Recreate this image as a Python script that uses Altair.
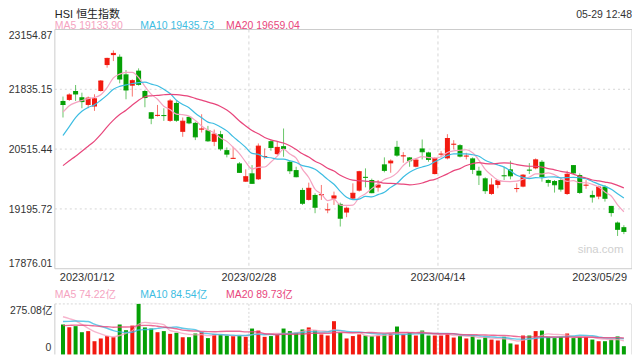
import altair as alt
import pandas as pd
import numpy as np

# ---------------- data ----------------
dates = [
    "2023-01-12", "2023-01-13", "2023-01-16", "2023-01-17", "2023-01-18", "2023-01-19", "2023-01-20",
    "2023-01-26", "2023-01-27", "2023-01-30", "2023-01-31",
    "2023-02-01", "2023-02-02", "2023-02-03", "2023-02-06", "2023-02-07", "2023-02-08", "2023-02-09",
    "2023-02-10", "2023-02-13", "2023-02-14", "2023-02-15", "2023-02-16", "2023-02-17", "2023-02-20",
    "2023-02-21", "2023-02-22", "2023-02-23", "2023-02-24", "2023-02-27", "2023-02-28",
    "2023-03-01", "2023-03-02", "2023-03-03", "2023-03-06", "2023-03-07", "2023-03-08", "2023-03-09",
    "2023-03-10", "2023-03-13", "2023-03-14", "2023-03-15", "2023-03-16", "2023-03-17", "2023-03-20",
    "2023-03-21", "2023-03-22", "2023-03-23", "2023-03-24", "2023-03-27", "2023-03-28", "2023-03-29",
    "2023-03-30", "2023-03-31",
    "2023-04-03", "2023-04-04", "2023-04-06", "2023-04-11", "2023-04-12", "2023-04-13", "2023-04-14",
    "2023-04-17", "2023-04-18", "2023-04-19", "2023-04-20", "2023-04-21", "2023-04-24", "2023-04-25",
    "2023-04-26", "2023-04-27", "2023-04-28",
    "2023-05-02", "2023-05-03", "2023-05-04", "2023-05-05", "2023-05-08", "2023-05-09", "2023-05-10",
    "2023-05-11", "2023-05-12", "2023-05-15", "2023-05-16", "2023-05-17", "2023-05-18", "2023-05-19",
    "2023-05-22", "2023-05-23", "2023-05-24", "2023-05-25", "2023-05-29",
]

opens = [
    21578, 21600, 21798, 21660, 21490, 21455, 21798, 22370, 22590, 22554,
    22165, 21915, 22247, 21798, 21329, 21250, 21262, 21138, 21534, 20896,
    21226, 21094, 20950, 20933, 20676, 20845, 20493, 20305, 20200, 19796,
    19981, 19849, 20345, 20691, 20405, 20581, 20236, 20053, 19614, 19394,
    19504, 19500, 19170, 19423, 19306, 19115, 19423, 19598, 19900, 19834,
    19665, 20179, 20201, 20566, 20360, 20333, 20126, 20530, 20442, 19965,
    20400, 20311, 20618, 20603, 20358, 20311, 20038, 19871, 19526, 19724,
    19932, 20069, 19640, 19687, 20056, 20091, 20236, 19834, 19811, 19834,
    19525, 20163, 19943, 19715, 19504, 19467, 19687, 19262, 18895, 18793,
]
highs = [
    21675, 21747, 21930, 21760, 21675, 21725, 22040, 22532, 22693, 22605,
    22260, 22055, 22297, 21820, 21329, 21490, 21417, 21622, 21572, 21213,
    21240, 21116, 21285, 21028, 20948, 20918, 20553, 20566, 20230, 20069,
    20163, 20640, 20530, 20713, 20680, 20970, 20273, 20126, 19660, 19775,
    19541, 19724, 19321, 19577, 19335, 19247, 19760, 20038, 20090, 19864,
    19834, 20333, 20289, 20698, 20449, 20340, 20310, 20728, 20457, 20333,
    20471, 20845, 20713, 20625, 20434, 20333, 20126, 19893, 19871, 19834,
    20126, 20258, 19760, 19963, 20207, 20310, 20273, 19848, 19834, 19870,
    20038, 20163, 19980, 19830, 19599, 19710, 19723, 19262, 18917, 18837,
]
lows = [
    21213, 21578, 21578, 21417, 21417, 21358, 21785, 22312, 22458, 21967,
    21615, 21675, 21916, 21439, 21065, 21234, 21138, 21116, 21116, 20787,
    21065, 20714, 20882, 20676, 20581, 20478, 20333, 20300, 19990, 19790,
    19746, 19834, 20295, 20478, 20385, 20346, 19965, 19892, 19284, 19379,
    19101, 19394, 19101, 19284, 18807, 19013, 19394, 19577, 19672, 19541,
    19577, 20003, 19994, 20346, 20214, 20126, 20113, 20288, 20237, 19958,
    20333, 20288, 20508, 20332, 20288, 19965, 19723, 19526, 19504, 19651,
    19833, 19848, 19562, 19672, 19965, 20069, 19797, 19687, 19556, 19577,
    19504, 19965, 19526, 19640, 19335, 19409, 19357, 19026, 18599, 18639,
]
closes = [
    21500, 21710, 21732, 21564, 21640, 21625, 22018, 22517, 22627, 22062,
    21820, 22025, 21945, 21653, 21197, 21260, 21255, 21578, 21153, 21131,
    21094, 20786, 20960, 20698, 20845, 20522, 20405, 20312, 20003, 19906,
    19761, 20581, 20352, 20553, 20553, 20531, 20038, 19906, 19321, 19651,
    19233, 19510, 19176, 19482, 18991, 19211, 19541, 20016, 19893, 19554,
    19723, 20047, 20251, 20383, 20367, 20259, 20273, 20457, 20288, 20310,
    20406, 20750, 20624, 20361, 20363, 20069, 19943, 19598, 19724, 19818,
    19926, 19926, 19645, 19941, 20051, 20278, 19913, 19781, 19729, 19633,
    19960, 19990, 19560, 19720, 19458, 19678, 19431, 19115, 18746, 18700,
]
# turnover, 亿
volumes = [
    163, 148, 154, 121, 127, 72, 87, 100, 94, 163,
    132, 157, 275.08, 147, 141, 121, 127, 112, 118, 94,
    94, 114, 121, 89, 109, 107, 103, 100, 100, 96,
    141, 130, 96, 100, 107, 141, 127, 118, 136, 147,
    132, 109, 103, 181, 118, 87, 100, 109, 103, 100,
    103, 109, 112, 152, 109, 118, 103, 130, 103, 103,
    103, 114, 92, 100, 87, 103, 81, 94, 81, 76,
    96, 60, 54, 103, 103, 127, 130, 96, 89, 96,
    114, 89, 96, 96, 81, 72, 72, 81, 98, 45,
]
# sessions before the first visible day (lead-in for the moving averages)
prior_closes = [19596, 19674, 19368, 19450, 19353, 19094, 19160, 19679, 19593, 19898,
                19741, 19781, 20145, 20793, 21052, 20991, 21388, 21331, 21436]
prior_volumes = [120, 130, 135, 140, 125, 150, 130, 145, 140, 135,
                 140, 135, 130, 145, 215, 200, 210, 220, 232]

price_ticks = [23154.87, 21835.15, 20515.44, 19195.72, 17876.01]
vol_tick_max = 275.08
date_ticks = ["2023/01/12", "2023/02/28", "2023/04/14", "2023/05/29"]
ma_periods = [5, 10, 20]
ma_price_last = ["19133.90", "19435.73", "19659.04"]
ma_vol_last = ["74.22亿", "84.54亿", "89.73亿"]
title_text = "HSI 恒生指数"
time_text = "05-29 12:48"
watermark_text = "sina.com"

# ---------------- styling / layout ----------------
FONT = "Liberation Sans, Arial, Noto Sans CJK SC, sans-serif"
RED = "#f2190f"
GREEN = "#05a005"
MA_COLORS = ["#f5a3c1", "#3dbde2", "#e8467c"]
GRID = "#d6d6d6"
BORDER = "#cccccc"

W = 579
H_MAIN = 240
H_ALL = 326
VOL_H = 50.7
VOL_TOP = H_ALL - VOL_H
LEG_X = [0, 85.7, 171.7]
LABEL_X = -2.5

n = len(closes)
idx = list(range(n))

df = pd.DataFrame({"idx": idx, "date": dates, "open": opens, "high": highs,
                   "low": lows, "close": closes, "vol": volumes})
df["dir"] = np.where(df["close"] >= df["open"], "up", "down")


def moving_avg(prior, values, k):
    s = pd.Series(list(prior) + list(values), dtype=float)
    return s.rolling(k).mean().iloc[-len(values):].to_numpy()


price_ma = {k: pd.DataFrame({"idx": idx, "v": moving_avg(prior_closes, closes, k)}) for k in ma_periods}
vol_ma = {k: pd.DataFrame({"idx": idx, "v": moving_avg(prior_volumes, volumes, k)}) for k in ma_periods}

p_hi, p_lo = price_ticks[0], price_ticks[-1]
price_scale = alt.Scale(domain=[p_hi - (p_hi - p_lo) * H_ALL / H_MAIN, p_hi], nice=False, zero=False)
vol_scale = alt.Scale(domain=[0, vol_tick_max * H_ALL / VOL_H], nice=False, zero=True)
x_scale = alt.Scale(domain=[-0.5, n - 0.5], nice=False, zero=False)
color_scale = alt.Scale(domain=["up", "down"], range=[RED, GREEN])

X = alt.X("idx:Q", scale=x_scale, axis=None)
COLOR = alt.Color("dir:N", scale=color_scale, legend=None)


def one_row(**kw):
    return pd.DataFrame({k: [v] for k, v in kw.items()})


def text_at(text, x, y, color="#333333", size=11, align="left"):
    return alt.Chart(one_row(t=text)).mark_text(
        align=align, baseline="alphabetic", font=FONT, fontSize=size, color=color
    ).encode(x=alt.value(x), y=alt.value(y), text="t:N")


# ---------------- price panel ----------------
main_border = alt.Chart(one_row(a=0)).mark_rect(
    fillOpacity=0, stroke=BORDER, strokeWidth=1
).encode(x=alt.value(0), x2=alt.value(W), y=alt.value(0), y2=alt.value(H_MAIN))

hgrid = alt.Chart(pd.DataFrame({"v": price_ticks[1:-1]})).mark_rule(
    color=GRID, strokeDash=[2, 3], strokeWidth=1
).encode(y=alt.Y("v:Q", scale=price_scale, axis=None), x=alt.value(0), x2=alt.value(W))

vpos = pd.DataFrame({"pos": [n / 3 - 0.5, 2 * n / 3 - 0.5]})
vgrid_main = alt.Chart(vpos).mark_rule(color=GRID, strokeDash=[3, 3], strokeWidth=1).encode(
    x=alt.X("pos:Q", scale=x_scale, axis=None), y=alt.value(0), y2=alt.value(H_MAIN))
vgrid_vol = alt.Chart(vpos).mark_rule(color=GRID, strokeDash=[2, 2], strokeWidth=1).encode(
    x=alt.X("pos:Q", scale=x_scale, axis=None), y=alt.value(VOL_TOP), y2=alt.value(H_ALL))

base = alt.Chart(df)
wicks = base.mark_rule(strokeWidth=1, opacity=0.6).encode(
    x=X, y=alt.Y("low:Q", scale=price_scale, axis=None), y2="high:Q", color=COLOR)
bodies = base.mark_bar(size=5, opacity=1).encode(
    x=X, y=alt.Y("open:Q", scale=price_scale, axis=None), y2="close:Q", color=COLOR)
doji = base.mark_tick(orient="horizontal", size=5, thickness=1, opacity=1).encode(
    x=X, y=alt.Y("close:Q", scale=price_scale, axis=None), color=COLOR)

ma_lines = [
    alt.Chart(price_ma[k]).mark_line(strokeWidth=1.2, color=c, interpolate="monotone").encode(
        x=X, y=alt.Y("v:Q", scale=price_scale, axis=None))
    for k, c in zip(ma_periods, MA_COLORS)
]

pt = pd.DataFrame({"v": price_ticks, "label": [f"{v:.2f}" for v in price_ticks], "k": range(len(price_ticks))})
last_k = len(price_ticks) - 1


def price_label(filter_expr, dy):
    return alt.Chart(pt).transform_filter(filter_expr).mark_text(
        align="right", baseline="alphabetic", font=FONT, fontSize=10.5, color="#333333", dy=dy
    ).encode(y=alt.Y("v:Q", scale=price_scale, axis=None), x=alt.value(LABEL_X), text="label:N")


price_labels = [
    price_label("datum.k == 0", 9.3),
    price_label(f"datum.k > 0 && datum.k < {last_k}", 4.0),
    price_label(f"datum.k == {last_k}", -1.7),
]

dt = pd.DataFrame({"pos": [-0.5, n / 3 - 0.5, 2 * n / 3 - 0.5, n - 0.5], "label": date_ticks,
                   "k": range(len(date_ticks))})


def date_label(filter_expr, align):
    return alt.Chart(dt).transform_filter(filter_expr).mark_text(
        align=align, baseline="alphabetic", font=FONT, fontSize=11, color="#333333"
    ).encode(x=alt.X("pos:Q", scale=x_scale, axis=None), y=alt.value(252.7), text="label:N")


date_labels = [
    date_label("datum.k == 0", "left"),
    date_label(f"datum.k > 0 && datum.k < {len(date_ticks) - 1}", "center"),
    date_label(f"datum.k == {len(date_ticks) - 1}", "right"),
]

texts = [
    text_at(title_text, 0, -12, color="#222222", size=11),
    text_at(time_text, W, -12, color="#333333", size=10.5, align="right"),
    text_at(watermark_text, 547.5, 224, color="#cfcfcf", size=11.5, align="center"),
]
for i, k in enumerate(ma_periods):
    texts.append(text_at(f"MA{k} {ma_price_last[i]}", LEG_X[i], -0.2, color=MA_COLORS[i], size=10.5))
    texts.append(text_at(f"MA{k} {ma_vol_last[i]}", LEG_X[i], 269.5, color=MA_COLORS[i], size=10.5))
texts.append(text_at(f"{vol_tick_max:.2f}亿", LABEL_X, 285.5, size=10.5, align="right"))
texts.append(text_at("0", LABEL_X - 1, 322.7, size=10.5, align="right"))

price_group = alt.layer(
    hgrid, vgrid_main, main_border, wicks, bodies, doji, *ma_lines,
    *price_labels, *date_labels, *texts
)

# ---------------- volume panel ----------------
vol_bars = base.mark_bar(size=4, opacity=1).encode(
    x=X, y=alt.Y("vol:Q", scale=vol_scale, axis=None), color=COLOR)
vol_lines = [
    alt.Chart(vol_ma[k]).mark_line(strokeWidth=1.4, color=c, opacity=0.8, interpolate="monotone").encode(
        x=X, y=alt.Y("v:Q", scale=vol_scale, axis=None))
    for k, c in zip(ma_periods, MA_COLORS)
]
vol_top_line = alt.Chart(one_row(a=0)).mark_rule(color=GRID, strokeDash=[2, 2]).encode(
    x=alt.value(0), x2=alt.value(W), y=alt.value(VOL_TOP))
vol_left = alt.Chart(one_row(a=0)).mark_rule(color=BORDER).encode(
    x=alt.value(0), y=alt.value(VOL_TOP), y2=alt.value(H_ALL))
vol_right = alt.Chart(one_row(a=0)).mark_rule(color=BORDER).encode(
    x=alt.value(W), y=alt.value(VOL_TOP), y2=alt.value(H_ALL))

vol_group = alt.layer(vol_top_line, vgrid_vol, vol_left, vol_right, vol_bars, *vol_lines)

chart = alt.layer(price_group, vol_group).resolve_scale(y="independent").properties(
    width=W, height=H_ALL,
    autosize=alt.AutoSizeParams(type="none"),
    padding={"left": 47, "top": 21, "right": 0, "bottom": 0},
).configure_view(stroke=None)

chart.save("out.html", embed_options={"renderer": "svg", "actions": False})
